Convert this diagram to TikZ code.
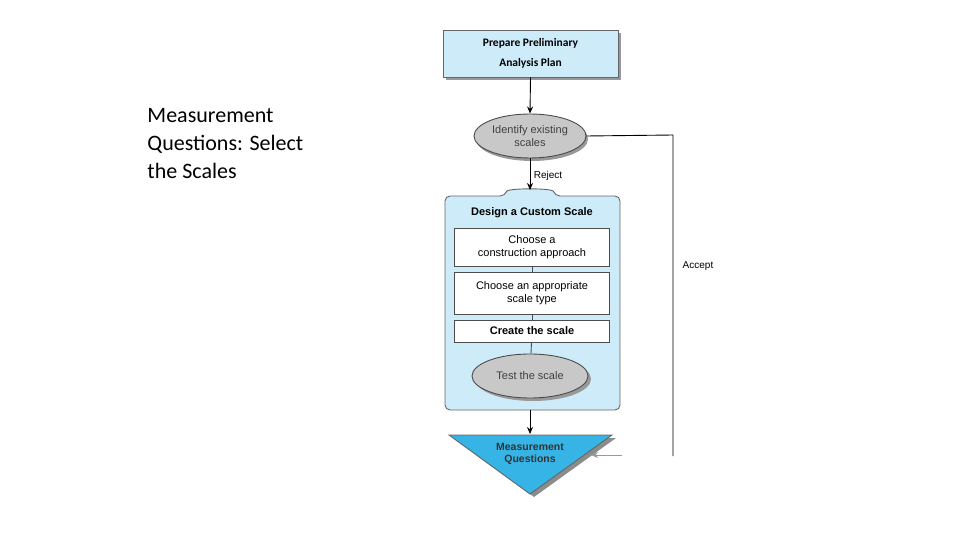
\documentclass[tikz,border=0pt]{standalone}
\usepackage{fontspec}
\setmainfont{Carlito}
\newfontfamily\arialf{Liberation Sans}
\usetikzlibrary{arrows.meta,shapes.geometric}
\definecolor{lb}{HTML}{CDEBF9}
\definecolor{tri}{HTML}{36B4E5}
\definecolor{ell}{HTML}{C8C8C8}
\begin{document}
\begin{tikzpicture}[x=1pt,y=-1pt,line width=0.9pt,
  arr/.style={-{Stealth[length=7pt,width=6pt]},black},
  stepbox/.style={draw=black!70,fill=white,minimum width=155pt,align=center,font=\arialf\fontsize{11}{13}\selectfont},
  ovl/.style={ellipse,draw=black!70,fill=ell,align=center,inner sep=0pt,font=\arialf\fontsize{11}{12.5}\selectfont\color{black!75}}]
\useasboundingbox (0,0) rectangle (960,540);
\node[anchor=north west,align=left,inner sep=0pt,font=\fontsize{22}{28}\selectfont] (title) at (147,108) {Measurement\\Questions: Select\\the Scales};
% top box
\fill[black!40] (446,33) rectangle (621,80);
\node[draw=black!60,fill=lb,minimum width=175pt,minimum height=47pt,align=center,font=\bfseries\fontsize{11.5}{20}\selectfont] (prep) at (530.5,53.5) {Prepare Preliminary\\Analysis Plan};
\fill[black!40] (532,139) ellipse (56 and 22);
\node[ovl,minimum width=112pt,minimum height=44pt] (ident) at (530,136) {Identify existing\\scales};
% container
\draw[black!60,fill=lb,rounded corners=5pt] (445,196) -- (505,196) .. controls (508,188) and (552,188) .. (555,196) -- (620,196) -- (620,410) -- (445,410) -- cycle;
\coordinate (ctop) at (530,190);
\node[font=\arialf\bfseries\fontsize{11}{13}\selectfont] (dtitle) at (532,213) {Design a Custom Scale};
\node[stepbox,minimum height=38pt] (b1) at (532,247) {Choose a\\construction approach};
\node[stepbox,minimum height=42pt] (b2) at (532,293) {Choose an appropriate\\scale type};
\node[stepbox,minimum height=22pt,font=\arialf\bfseries\fontsize{11}{13}\selectfont] (b3) at (532,331) {Create the scale};
\fill[black!40] (533,379) ellipse (58 and 22);
\node[ovl,minimum width=116pt,minimum height=44pt] (test) at (530,376) {Test the scale};
\draw[black!70] (b1) -- (b2); \draw[black!70] (b2) -- (b3); \draw[black!70] (b3) -- (test);
% triangle
\fill[black!45] (453,438) -- (616,438) -- (534,497) -- cycle;
\draw[black!60,fill=tri] (449,435) -- (612,435) -- (530,494) -- cycle;
\coordinate (tritop) at (530,434);
\node[font=\arialf\bfseries\fontsize{10.5}{12.5}\selectfont,text=black!80,align=center] (mq) at (530,454) {Measurement\\Questions};
\draw[arr] (prep.south) -- (ident.north);
\draw[arr] (ident.south) -- node[right,font=\arialf\fontsize{10}{12}\selectfont,pos=0.55] {Reject} (ctop);
\coordinate (cbot) at (530,410);
\draw[arr] (cbot) -- (tritop);
\coordinate (acc1) at (673,135);
\coordinate (acc2) at (673,456);
\draw[black] (ident.east) -- (acc1) -- (acc2);
\node[font=\arialf\fontsize{10}{12}\selectfont] (acc) at (698,266) {Accept};
\coordinate (ain) at (622,455);
\coordinate (aend) at (591,455);
\draw[arr,black!40] (ain) -- (aend);
\end{tikzpicture}
\end{document}
